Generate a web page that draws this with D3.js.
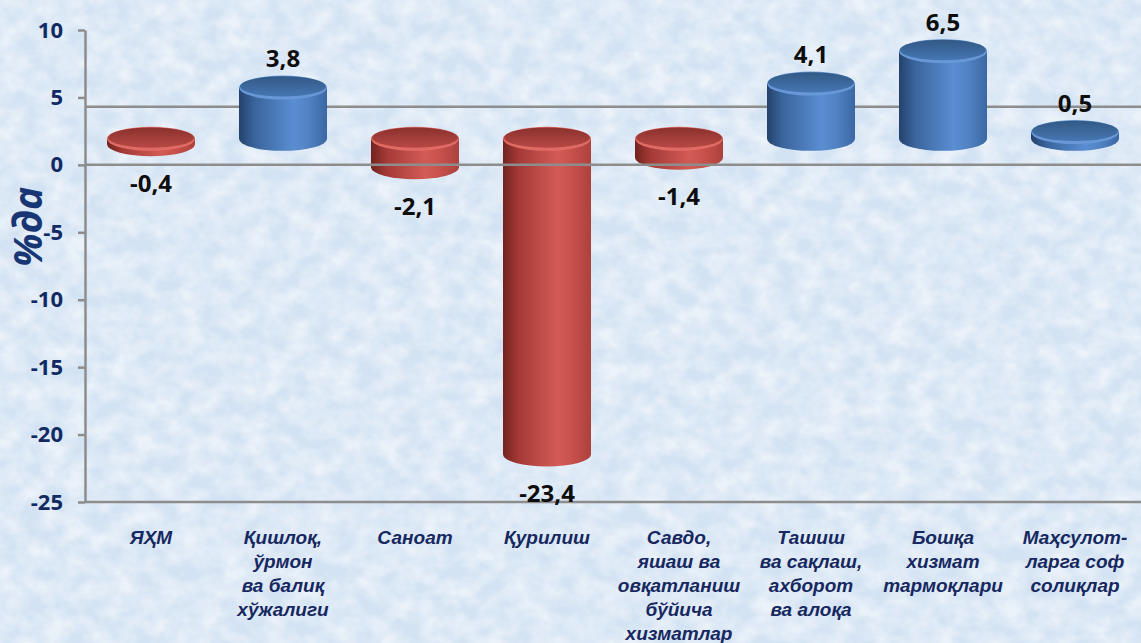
<!DOCTYPE html>
<html>
<head>
<meta charset="utf-8">
<script src="https://cdn.jsdelivr.net/npm/d3@7"></script>
<style>
  body { margin: 0; background: #d8e5f2; }
  svg { display: block; }
</style>
</head>
<body>
<div id="chart"></div>
<script>
// data
const categories = ["ЯҲМ", "Қишлоқ", "Саноат", "Қурилиш", "Савдо", "Ташиш", "Бошқа", "Маҳсулот"];
const categoryLines = [
  ["ЯҲМ"],
  ["Қишлоқ,", "ўрмон", "ва балиқ", "хўжалиги"],
  ["Саноат"],
  ["Қурилиш"],
  ["Савдо,", "яшаш ва", "овқатланиш", "бўйича", "хизматлар"],
  ["Ташиш", "ва сақлаш,", "ахборот", "ва алоқа"],
  ["Бошқа", "хизмат", "тармоқлари"],
  ["Маҳсулот-", "ларга соф", "солиқлар"]
];
const values = [-0.4, 3.8, -2.1, -23.4, -1.4, 4.1, 6.5, 0.5];
const yTicks = [10, 5, 0, -5, -10, -15, -20, -25];
const yTitle = "%да";
const wallLineAt = 4.3; // the grey line behind the columns

const W = 1141, H = 643;
const margin = { top: 30, right: 0, bottom: 141, left: 85 };
const floorShift = 26; // 3d floor sits a bit above the zero tick

// comma decimals and a plain hyphen for minus
const loc = d3.formatLocale({ decimal: ",", thousands: " ", grouping: [3], currency: ["", ""], minus: "-" });
const fmtVal = loc.format(".1f");
const fmtTick = loc.format("d");

const svg = d3.select("#chart").append("svg")
  .attr("width", W)
  .attr("height", H);

const defs = svg.append("defs");

// marbled background
const tex = defs.append("filter").attr("id", "tex")
  .attr("x", 0).attr("y", 0).attr("width", "100%").attr("height", "100%");
tex.append("feTurbulence")
  .attr("type", "fractalNoise")
  .attr("baseFrequency", "0.045 0.055")
  .attr("numOctaves", 3)
  .attr("seed", 7);
tex.append("feColorMatrix")
  .attr("type", "matrix")
  .attr("values", "0 0 0 0 1  0 0 0 0 1  0 0 0 0 1  2.0 0 0 0 -0.6");

svg.append("rect").attr("width", W).attr("height", H).attr("fill", "#d4e3f3");
svg.append("rect").attr("width", W).attr("height", H)
  .attr("filter", "url(#tex)").attr("opacity", 0.55);

// gradients for the cylinders
const hGrad = (id, stops) => {
  const g = defs.append("linearGradient").attr("id", id)
    .attr("x1", 0).attr("x2", 1).attr("y1", 0).attr("y2", 0);
  stops.forEach(s => g.append("stop").attr("offset", s[0]).attr("stop-color", s[1]));
};
const vGrad = (id, stops) => {
  const g = defs.append("linearGradient").attr("id", id)
    .attr("x1", 0).attr("x2", 0).attr("y1", 0).attr("y2", 1);
  stops.forEach(s => g.append("stop").attr("offset", s[0]).attr("stop-color", s[1]));
};
hGrad("bodyBlue", [["0%", "#24426b"], ["18%", "#3a659d"], ["62%", "#5a8dd1"], ["78%", "#5283c4"], ["100%", "#3b68a4"]]);
hGrad("bodyRed", [["0%", "#72231f"], ["18%", "#a53a36"], ["62%", "#d35b56"], ["78%", "#c8514c"], ["100%", "#ac413d"]]);
vGrad("topBlue", [["0%", "#325985"], ["100%", "#4676b3"]]);
vGrad("topRed", [["0%", "#8a312e"], ["100%", "#b84844"]]);

// scales
const x = d3.scaleBand()
  .domain(categories)
  .range([margin.left, W - margin.right]);

const y = d3.scaleLinear()
  .domain([-25, 10])
  .range([H - margin.bottom, margin.top]);

const grey = "#8d8d8d";

// back line (behind the columns)
svg.append("line")
  .attr("x1", margin.left).attr("x2", W - margin.right)
  .attr("y1", y(wallLineAt)).attr("y2", y(wallLineAt))
  .attr("stroke", grey).attr("stroke-width", 2.5);

// y axis
const yAxis = svg.append("g")
  .attr("transform", `translate(${margin.left},0)`)
  .call(d3.axisLeft(y).tickValues(yTicks).tickFormat(fmtTick).tickSize(7).tickSizeOuter(0).tickPadding(15));
yAxis.select(".domain").attr("stroke", grey).attr("stroke-width", 2.5);
yAxis.selectAll(".tick line").attr("stroke", grey).attr("stroke-width", 2.5);
yAxis.selectAll(".tick text")
  .attr("fill", "#122a63")
  .style("font", "bold 22px 'Open Sans'");

// bottom axis line
svg.append("line")
  .attr("x1", margin.left).attr("x2", W - margin.right)
  .attr("y1", y(-25)).attr("y2", y(-25))
  .attr("stroke", grey).attr("stroke-width", 2.5);

// cylinders //////////////
const rx = x.bandwidth() / 3;
const ry = 12;

const bars = svg.selectAll("g.bar")
  .data(values.map((v, i) => ({ cat: categories[i], v: v })))
  .enter()
  .append("g")
  .attr("class", "bar");

bars.each(function (d) {
  const g = d3.select(this);
  const cx = x(d.cat) + x.bandwidth() / 2;
  const yTop = y(Math.max(0, d.v)) - floorShift;
  const yBot = y(Math.min(0, d.v)) - floorShift;
  const col = d.v >= 0 ? "Blue" : "Red";

  g.append("path")
    .attr("d", `M${cx - rx},${yTop} L${cx - rx},${yBot} A${rx},${ry} 0 0 0 ${cx + rx},${yBot} L${cx + rx},${yTop} Z`)
    .attr("fill", `url(#body${col})`);
  // rim then top face
  g.append("ellipse")
    .attr("cx", cx).attr("cy", yTop).attr("rx", rx).attr("ry", ry)
    .attr("fill", d.v >= 0 ? "#6797d6" : "#e06b65");
  g.append("ellipse")
    .attr("cx", cx).attr("cy", yTop - 1.2).attr("rx", rx - 1).attr("ry", ry - 1.8)
    .attr("fill", `url(#top${col})`);

  // value label
  g.append("text")
    .attr("x", cx)
    .attr("y", d.v >= 0 ? yTop - ry - 18 : yBot + ry + 26)
    .attr("text-anchor", "middle")
    .attr("dominant-baseline", "central")
    .attr("fill", "#0d0d0d")
    .style("font", "bold 24px 'Open Sans'")
    .text(fmtVal(d.v));
});

// zero line sits in front of the columns
svg.append("line")
  .attr("x1", margin.left).attr("x2", W - margin.right)
  .attr("y1", y(0)).attr("y2", y(0))
  .attr("stroke", grey).attr("stroke-width", 2.5);

// category labels, multi line
const catText = svg.selectAll("text.cat")
  .data(categories)
  .enter()
  .append("text")
  .attr("class", "cat")
  .attr("text-anchor", "middle")
  .attr("fill", "#16285f")
  .style("font", "italic bold 19px 'Liberation Sans'");

catText.each(function (c, i) {
  const t = d3.select(this);
  categoryLines[i].forEach((line, j) => {
    t.append("tspan")
      .attr("x", x(c) + x.bandwidth() / 2)
      .attr("y", H - margin.bottom + 42 + j * 24)
      .text(line);
  });
});

// y title
svg.append("text")
  .attr("transform", `translate(42,${y(-4.6)}) rotate(-90)`)
  .attr("text-anchor", "middle")
  .attr("fill", "#183674")
  .style("font", "italic bold 39px 'Open Sans'")
  .text(yTitle);
</script>
</body>
</html>
